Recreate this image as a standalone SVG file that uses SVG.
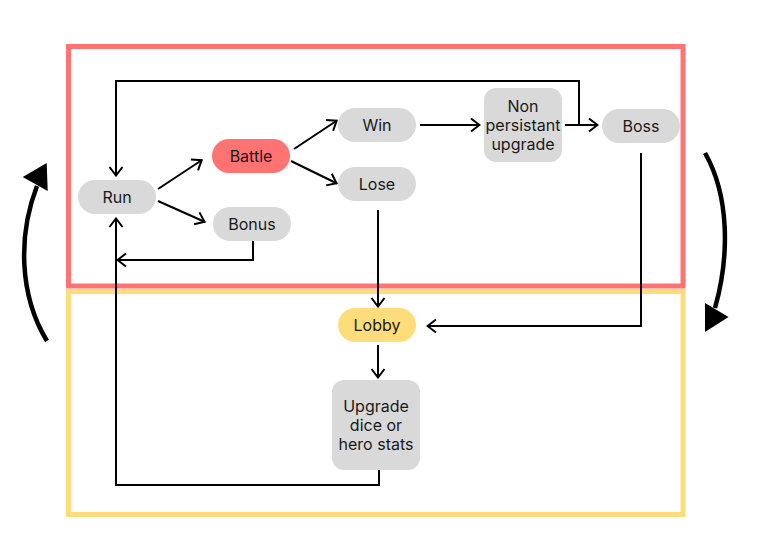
<svg xmlns="http://www.w3.org/2000/svg" width="763" height="543" viewBox="0 0 763 543">
<defs>
<style>
.frame{fill:none;stroke-width:5}
.node{fill:#D9D9D9}
.lbl{font-family:Inter,"Liberation Sans",sans-serif;font-size:16px;fill:#1a1a1a;text-anchor:middle;dominant-baseline:central}
.conn{fill:none;stroke:#000;stroke-width:2;marker-end:url(#arr)}
.big{fill:none;stroke:#000;stroke-width:4.5;stroke-linecap:butt}
</style>
<marker id="arr" viewBox="0 0 12 16" refX="11" refY="8" markerWidth="12" markerHeight="16" markerUnits="userSpaceOnUse" orient="auto">
<path d="M2,1.5 L10.5,8 L2,14.5" fill="none" stroke="#000" stroke-width="2"/>
</marker>
</defs>
<rect width="763" height="543" fill="#fff"/>
<g id="frames">
<rect class="frame" x="68.5" y="46.5" width="614.5" height="239.5" stroke="#FF7373"/>
<rect class="frame" x="68.5" y="291.5" width="614.5" height="223" stroke="#FDDC7A"/>
</g>
<g id="connectors">
<path class="conn" d="M158,189 L202,160"/>
<path class="conn" d="M158,201 L205,222"/>
<path class="conn" d="M294,149 L337,120.5"/>
<path class="conn" d="M291,161 L337,183.5"/>
<path class="conn" d="M420,125 H480"/>
<path class="conn" d="M565,125 H598"/>
<path class="conn" d="M579,125 V81 H116 V176"/>
<path class="conn" d="M253,241 V260 H117"/>
<path class="conn" d="M378,210 V307"/>
<path class="conn" d="M641,153 V326 H427"/>
<path class="conn" d="M378,345 V378"/>
<path class="conn" d="M379,469 V485 H116 V218"/>
</g>
<g id="cycle-arrows">
<path class="big" d="M47,341 C 19,295 18,235 37,186"/>
<polygon points="46.7,163 22.7,177 47.7,191" fill="#000"/>
<path class="big" d="M705,153 C 729,195 730,255 715,308"/>
<polygon points="705,332 705,303 728.5,317" fill="#000"/>
</g>
<g id="node-run"><rect class="node" x="78" y="180" width="78" height="34" rx="17"/><text class="lbl" x="117" y="197">Run</text></g>
<g id="node-battle"><rect x="212" y="139" width="78" height="34" rx="17" fill="#FF7373"/><text class="lbl" x="251" y="156">Battle</text></g>
<g id="node-bonus"><rect class="node" x="213" y="207" width="78" height="34" rx="17"/><text class="lbl" x="252" y="224">Bonus</text></g>
<g id="node-win"><rect class="node" x="338" y="108" width="78" height="34" rx="17"/><text class="lbl" x="377" y="125">Win</text></g>
<g id="node-lose"><rect class="node" x="338" y="167" width="78" height="34" rx="17"/><text class="lbl" x="377" y="184">Lose</text></g>
<g id="node-npu"><rect class="node" x="484" y="88" width="78" height="74" rx="12"/><text class="lbl" x="523"><tspan x="523" y="106">Non</tspan><tspan x="523" y="125">persistant</tspan><tspan x="523" y="144">upgrade</tspan></text></g>
<g id="node-boss"><rect class="node" x="602" y="109" width="78" height="34" rx="17"/><text class="lbl" x="641" y="126">Boss</text></g>
<g id="node-lobby"><rect x="338" y="308" width="78" height="34" rx="17" fill="#FDDC7A"/><text class="lbl" x="377" y="325">Lobby</text></g>
<g id="node-upgrade"><rect class="node" x="332" y="380" width="88" height="90" rx="12"/><text class="lbl" x="376"><tspan x="376" y="406">Upgrade</tspan><tspan x="376" y="425">dice or</tspan><tspan x="376" y="444">hero stats</tspan></text></g>
</svg>
